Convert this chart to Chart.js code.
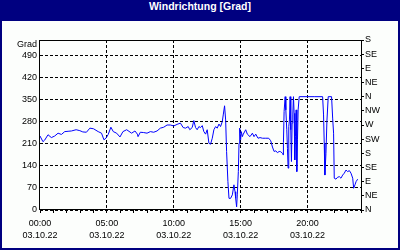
<!DOCTYPE html>
<html>
<head>
<meta charset="utf-8">
<script src="https://cdn.jsdelivr.net/npm/chart.js@4.4.0/dist/chart.umd.min.js"></script>
<style>
  html, body { margin: 0; padding: 0; }
  #frame { position: relative; width: 400px; height: 250px; background: #000080; overflow: hidden; }
  #title { position: absolute; left: 0; top: 0; width: 400px; height: 21px; line-height: 20px; text-align: center;
           color: #ffffff; font: bold 10.5px "Liberation Sans", Arial, sans-serif; }
  #wrap { position: absolute; left: 2px; top: 21px; width: 396px; height: 227px; background: #fcfefc; }
  canvas { display: block; }
</style>
</head>
<body>
<div id="frame">
  <div id="title">Windrichtung [Grad]</div>
  <div id="wrap"><canvas id="c" width="396" height="227"></canvas></div>
</div>
<script>
// ---- data ----
const timesHours = [
  0.0, 0.22, 0.35, 0.6, 0.85, 1.1, 1.35, 1.6, 1.85, 2.1, 2.35, 2.7, 2.98, 3.2, 3.47, 3.73, 4.0, 4.35, 4.6, 4.78,
  4.93, 5.1, 5.3, 5.48, 5.73, 5.98, 6.2, 6.48, 6.85, 7.1, 7.28, 7.33, 7.5, 7.75, 8.0, 8.25, 8.5, 8.75, 9.0, 9.25,
  9.5, 9.75, 10.0, 10.25, 10.5, 10.7, 10.88, 11.08, 11.2, 11.38, 11.5, 11.63, 11.75, 11.88, 12.0, 12.13, 12.25, 12.38, 12.5, 12.63,
  12.75, 12.88, 13.0, 13.13, 13.25, 13.38, 13.5, 13.63, 13.7, 13.8, 13.88, 13.95, 14.05, 14.13, 14.25, 14.38, 14.5, 14.58, 14.63, 14.7,
  14.75, 14.83, 14.88, 14.93, 15.0, 15.05, 15.13, 15.2, 15.38, 15.5, 15.7, 15.88, 16.0, 16.13, 16.3, 16.45, 16.63, 16.88, 17.1, 17.25,
  17.38, 17.5, 17.63, 17.75, 17.88, 18.0, 18.13, 18.18, 18.2, 18.25, 18.33, 18.38, 18.45, 18.5, 18.55, 18.6, 18.65, 18.7, 18.75, 18.8,
  18.85, 18.9, 18.95, 19.0, 19.05, 19.1, 19.15, 19.2, 19.25, 19.3, 19.38, 20.0, 20.5, 21.13, 21.2, 21.25, 21.3, 21.38, 21.45, 21.55,
  21.8, 21.88, 21.95, 22.0, 22.13, 22.25, 22.38, 22.5, 22.63, 22.75, 22.88, 23.0, 23.13, 23.25, 23.38, 23.45, 23.55, 23.63, 23.75
];
const directionDeg = [
  235, 217, 222, 239, 230, 235, 244, 240, 249, 250, 251, 255, 252, 248, 247, 260, 258, 249, 244, 223,
  228, 240, 263, 249, 244, 232, 249, 255, 244, 251, 241, 233, 247, 246, 244, 249, 247, 251, 260, 263,
  270, 270, 267, 272, 276, 262, 260, 265, 255, 262, 284, 262, 255, 265, 262, 268, 249, 241, 255, 212,
  209, 228, 255, 265, 260, 273, 265, 281, 302, 331, 286, 186, 90, 37, 37, 48, 80, 58, 37, 10,
  48, 122, 212, 260, 223, 249, 233, 241, 255, 241, 233, 244, 233, 241, 228, 230, 228, 228, 228, 220,
  200, 186, 188, 182, 186, 185, 180, 175, 214, 313, 360, 318, 255, 196, 133, 265, 286, 360, 255, 154,
  276, 302, 360, 307, 159, 233, 318, 122, 223, 318, 360, 360, 360, 360, 302, 212, 111, 180, 281, 360,
  360, 292, 244, 101, 98, 104, 106, 101, 111, 117, 127, 122, 125, 117, 101, 69, 80, 90, 98
];
const leftTickValues = [0, 70, 140, 210, 280, 350, 420, 490];
const rightTickValues = [0, 45, 90, 135, 180, 225, 270, 315, 360, 405, 450, 495, 540];
const rightTickLabels = ['N', 'NE', 'E', 'SE', 'S', 'SW', 'W', 'NW', 'N', 'NE', 'E', 'SE', 'S'];
const xTickHours = [0, 1, 2, 3, 4, 5, 6, 7, 8, 9, 10, 11, 12, 13, 14, 15, 16, 17, 18, 19, 20, 21, 22, 23, 24];
const xLabelHours = [0, 5, 10, 15, 20];
const xLabelTimes = ['00:00', '05:00', '10:00', '15:00', '20:00'];
const xLabelDate = '03.10.22';
const yAxisUnit = 'Grad';
const yMin = 0, yMax = 540, xMin = 0, xMax = 24;

const FONT = '"Liberation Sans", Arial, sans-serif';
const GRID_DASH = [3, 2];

const framePlugin = {
  id: 'frame',
  afterDraw(chart) {
    const { ctx, chartArea: a } = chart;
    ctx.save();
    ctx.strokeStyle = '#000000';
    ctx.lineWidth = 1;
    ctx.setLineDash([]);
    ctx.strokeRect(Math.round(a.left) - 0.5, Math.round(a.top) + 0.5, Math.round(a.right - a.left) + 1, Math.round(a.bottom - a.top) - 1);
    ctx.fillStyle = '#000000';
    ctx.font = '9px ' + FONT;
    ctx.textAlign = 'right';
    ctx.textBaseline = 'middle';
    ctx.fillText(yAxisUnit, a.left - 3, a.top + 5);
    ctx.restore();
  }
};

new Chart(document.getElementById('c'), {
  type: 'line',
  data: {
    datasets: [{
      data: timesHours.map((t, i) => ({ x: t, y: directionDeg[i] })),
      borderColor: '#0000ff',
      borderWidth: 1,
      pointRadius: 0,
      tension: 0,
      fill: false
    }]
  },
  options: {
    responsive: false,
    animation: false,
    devicePixelRatio: 1,
    layout: { padding: { top: 19, left: 0, right: 0, bottom: 0 } },
    plugins: { legend: { display: false }, tooltip: { enabled: false }, title: { display: false } },
    scales: {
      x: {
        type: 'linear', min: xMin, max: xMax,
        afterBuildTicks: s => { s.ticks = xTickHours.map(v => ({ value: v })); },
        afterFit: s => { s.height = 38; },
        border: { display: false, dash: GRID_DASH },
        grid: {
          color: c => (c.tick && xLabelHours.indexOf(c.tick.value) > 0) ? '#000000' : 'rgba(0,0,0,0)',
          tickColor: '#000000', tickLength: 3, tickBorderDash: [], lineWidth: 1
        },
        ticks: {
          autoSkip: false, maxRotation: 0, padding: 5, color: '#000000',
          font: { family: FONT, size: 9, lineHeight: 1.333 },
          callback: v => { const i = xLabelHours.indexOf(v); return i >= 0 ? [xLabelTimes[i], xLabelDate] : ''; }
        }
      },
      y: {
        position: 'left', min: yMin, max: yMax,
        afterBuildTicks: s => { s.ticks = leftTickValues.map(v => ({ value: v })); },
        afterFit: s => { s.width = 38; },
        border: { display: false, dash: GRID_DASH },
        grid: { color: '#000000', drawTicks: false, lineWidth: 1 },
        ticks: { padding: 3, color: '#000000', font: { family: FONT, size: 9 } }
      },
      y2: {
        position: 'right', min: yMin, max: yMax,
        afterBuildTicks: s => { s.ticks = rightTickValues.map(v => ({ value: v })); },
        afterFit: s => { s.width = 37; },
        border: { display: false },
        grid: { drawOnChartArea: false, tickColor: '#000000', tickLength: 3, tickBorderDash: [] },
        ticks: {
          padding: 1, color: '#000000', font: { family: FONT, size: 9 },
          callback: (v, i) => rightTickLabels[rightTickValues.indexOf(v)]
        }
      }
    }
  },
  plugins: [framePlugin]
});
</script>
</body>
</html>
